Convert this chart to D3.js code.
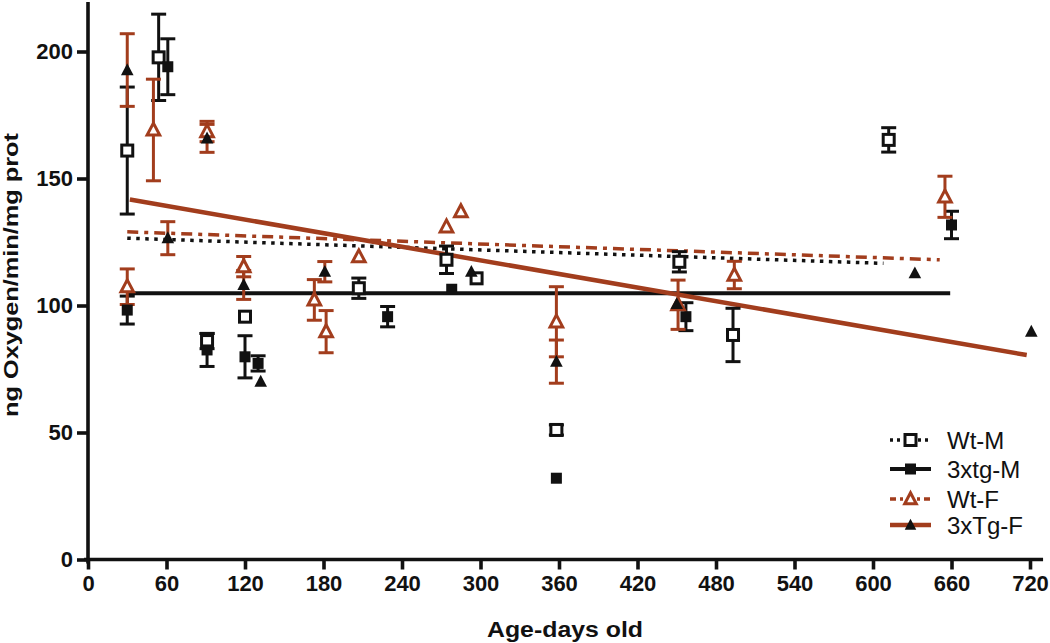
<!DOCTYPE html>
<html><head><meta charset="utf-8">
<script src="https://cdn.jsdelivr.net/npm/d3@7/dist/d3.min.js"></script>
<style>
html,body{margin:0;padding:0;background:#fff;}
svg{display:block;}
text{font-family:"Liberation Sans",Arial,Helvetica,sans-serif;}
</style></head>
<body><svg id="c" width="1050" height="643"></svg>
<script>
// ---- data (age in days, mean, error) ----
const seriesNames = ["Wt-M", "3xtg-M", "Wt-F", "3xTg-F"];
const wtM_days = [30, 54, 91, 120, 207, 274, 297, 358, 452, 493, 612];
const wtM_vals = [161, 197.7, 86, 95.6, 106.8, 118, 110.7, 51, 117.2, 88.4, 165.2];
const wtM_err  = [25, 17, 3, 0, 4, 5.4, 0, 2, 4, 10.5, 4.8];

const tgM_days = [30, 61, 91, 120, 130, 229, 278, 358, 457, 660];
const tgM_vals = [98.2, 194, 82.5, 79.8, 77.2, 95.6, 106.4, 32, 95.6, 131.7];
const tgM_err  = [5.5, 11, 6.5, 8.3, 3, 4, 0, 0, 5.5, 5.4];

const wtF_days = [30, 50, 91, 119, 173, 182, 207, 274, 285, 358, 451, 494, 655];
const wtF_vals = [107.4, 169.1, 168.5, 115.3, 102.2, 89.7, 119.2, 131, 137, 93.6, 100.3, 112, 142.8];
const wtF_err  = [7, 20, 4, 4, 8, 8.3, 0, 0, 0, 13.8, 9.7, 5.4, 8.1];

const tgF_days = [30, 61, 91, 119, 132, 181, 293, 358, 450, 632, 721];
const tgF_vals = [192.7, 126.5, 165.8, 108.1, 70, 113.3, 113.3, 77.9, 100.6, 112.7, 89.7];
const tgF_err  = [14.3, 6.5, 5.5, 5.7, 0, 4, 0, 8.5, 0, 0, 0];

// regression line end points [day, value]
const fitWtM  = [[30, 126.5], [608, 116.6]];
const fitTgM  = [[30, 104.8], [659, 104.8]];
const fitWtF  = [[30, 129.0], [651, 118.0]];
const fitTgF  = [[32, 141.7], [717.5, 80.5]];

const xTicks = [0, 60, 120, 180, 240, 300, 360, 420, 480, 540, 600, 660, 720];
const yTicks = [0, 50, 100, 150, 200];

// ---- drawing ----
const RED = "#a23d1d", BLK = "#111";
const svg = d3.select("#c");
const x = d3.scaleLinear().domain([0, 720]).range([88, 1030]);
const y = d3.scaleLinear().domain([0, 200]).range([559.5, 51.5]);

const zip = (d, v, e) => d.map((di, i) => ({d: di, v: v[i], e: e[i]}));
const series = [
  {name: seriesNames[0], pts: zip(wtM_days, wtM_vals, wtM_err), fit: fitWtM, marker: "sqOpen", mcol: BLK, ecol: BLK, lcol: BLK, dash: "3.5,5.5", lw: 3.5},
  {name: seriesNames[1], pts: zip(tgM_days, tgM_vals, tgM_err), fit: fitTgM, marker: "sqFill", mcol: BLK, ecol: BLK, lcol: BLK, dash: null, lw: 4},
  {name: seriesNames[2], pts: zip(wtF_days, wtF_vals, wtF_err), fit: fitWtF, marker: "triOpen", mcol: RED, ecol: RED, lcol: RED, dash: "11,6,4,6", lw: 3.5},
  {name: seriesNames[3], pts: zip(tgF_days, tgF_vals, tgF_err), fit: fitTgF, marker: "triFill", mcol: BLK, ecol: RED, lcol: RED, dash: null, lw: 4.5}
];

// axes
const xAxis = d3.axisBottom(x).tickValues(xTicks).tickSize(10).tickPadding(6).tickFormat(d3.format("d"));
const yAxis = d3.axisLeft(y).tickValues(yTicks).tickSize(11).tickPadding(4).tickFormat(d3.format("d"));
const gx = svg.append("g").attr("transform", `translate(0,${y(0)})`).call(xAxis);
const gy = svg.append("g").attr("transform", `translate(${x(0)},0)`).call(yAxis);
gx.select(".domain").attr("d", `M${x(0) - 4},0H${x(0) + 1.3083 * 730}`);
gy.select(".domain").attr("d", `M0,${y(0) + 4}V${y(219.5)}`);
[gx, gy].forEach(g => {
  g.selectAll(".domain").attr("stroke", BLK).attr("stroke-width", 3.6);
  g.selectAll(".tick line").attr("stroke", BLK).attr("stroke-width", 3.6);
  g.selectAll(".tick text").attr("fill", BLK).attr("font-size", 22).attr("font-weight", "bold")
    .style("font-family", '"Liberation Sans", Arial, sans-serif');
});

// axis titles
svg.append("text").attr("x", 565).attr("y", 637).attr("text-anchor", "middle")
  .attr("font-size", 22).attr("font-weight", "bold").attr("fill", BLK)
  .attr("textLength", 156).attr("lengthAdjust", "spacingAndGlyphs").text("Age-days old");
svg.append("text").attr("transform", "translate(18,275) rotate(-90)").attr("text-anchor", "middle")
  .attr("font-size", 21).attr("font-weight", "bold").attr("fill", BLK)
  .attr("textLength", 284).attr("lengthAdjust", "spacingAndGlyphs").text("ng Oxygen/min/mg prot");

// markers
function drawMarker(g, type, col, cx, cy, s) {
  if (type === "sqOpen") g.append("rect").attr("x", cx - s/2).attr("y", cy - s/2).attr("width", s).attr("height", s)
      .attr("fill", "#fff").attr("stroke", col).attr("stroke-width", 3);
  else if (type === "sqFill") g.append("rect").attr("x", cx - s/2).attr("y", cy - s/2).attr("width", s).attr("height", s)
      .attr("fill", col);
  else {
    const h = s * 0.95, w = s * 1.05;
    const p = `M${cx},${cy - h*0.6}L${cx + w/2},${cy + h*0.45}L${cx - w/2},${cy + h*0.45}Z`;
    const t = g.append("path").attr("d", p);
    if (type === "triOpen") t.attr("fill", "#fff").attr("stroke", col).attr("stroke-width", 3).attr("stroke-linejoin", "miter");
    else t.attr("fill", col);
  }
}

const lineGen = d3.line().x(p => x(p[0])).y(p => y(p[1]));
// fit lines
series.forEach(s => {
  const l = svg.append("path").datum(s.fit).attr("d", lineGen).attr("fill", "none")
    .attr("stroke", s.lcol).attr("stroke-width", s.lw);
  if (s.dash) l.attr("stroke-dasharray", s.dash);
});

// error bars
series.forEach(s => {
  const g = svg.append("g").attr("stroke", s.ecol).attr("stroke-width", 3);
  s.pts.filter(p => p.e > 0).forEach(p => {
    const cx = x(p.d), y1 = y(p.v + p.e), y2 = y(p.v - p.e);
    g.append("line").attr("x1", cx).attr("x2", cx).attr("y1", y1).attr("y2", y2);
    g.append("line").attr("x1", cx - 7.5).attr("x2", cx + 7.5).attr("y1", y1).attr("y2", y1);
    g.append("line").attr("x1", cx - 7.5).attr("x2", cx + 7.5).attr("y1", y2).attr("y2", y2);
  });
});

// points
series.forEach(s => {
  const g = svg.append("g");
  const size = s.marker.startsWith("sq") ? 11 : 12;
  s.pts.forEach(p => drawMarker(g, s.marker, s.mcol, x(p.d), y(p.v), size));
});

// legend
const legY = [440, 469, 499, 525];
series.forEach((s, i) => {
  const g = svg.append("g");
  const l = g.append("line").attr("x1", 890).attr("x2", 931).attr("y1", legY[i]).attr("y2", legY[i])
    .attr("stroke", s.lcol).attr("stroke-width", s.lw);
  if (s.dash) l.attr("stroke-dasharray", s.name === "Wt-F" ? "6,4,3,4" : "3,4");
  drawMarker(g, s.marker, s.mcol, 910.5, legY[i], 11);
  g.append("text").attr("x", 947).attr("y", legY[i] + 8.5).attr("font-size", 24).attr("fill", BLK)
    .text(s.name);
});
</script></body></html>
